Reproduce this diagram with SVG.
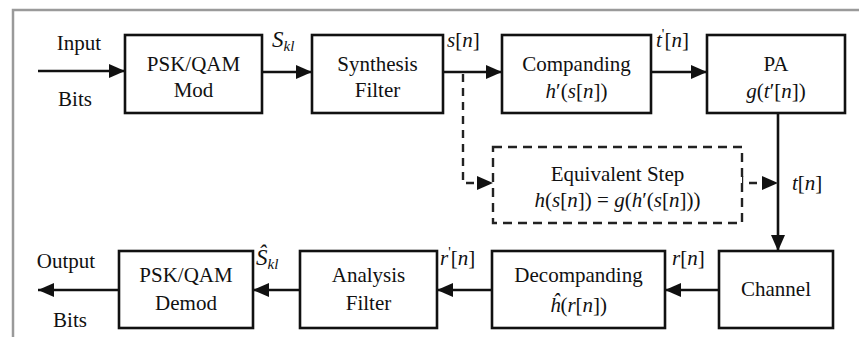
<svg xmlns="http://www.w3.org/2000/svg" width="859" height="337" viewBox="0 0 859 337">
<style>
.box{fill:#fff;stroke:#111;stroke-width:2.6}
.dbox{fill:#fff;stroke:#222;stroke-width:2.4;stroke-dasharray:9,6}
.ln{stroke:#111;stroke-width:2.6;fill:none}
.dl{stroke:#222;stroke-width:2.4;fill:none;stroke-dasharray:8,6}
</style>
<defs>
<marker id="ah" viewBox="0 0 16 14" refX="16" refY="7" markerWidth="16" markerHeight="14" markerUnits="userSpaceOnUse" orient="auto">
<path d="M0,0 L16,7 L0,14 z" fill="#111"/>
</marker>
</defs>
<rect x="0" y="0" width="859" height="337" fill="#fff"/>
<path d="M13,337 V10 H859" fill="none" stroke="#9a9a9a" stroke-width="2.5"/>

<g id="connectors">
<line class="ln" x1="38" y1="71" x2="125" y2="71" marker-end="url(#ah)"/>
<line class="ln" x1="262" y1="72" x2="312" y2="72" marker-end="url(#ah)"/>
<line class="ln" x1="443" y1="72" x2="502" y2="72" marker-end="url(#ah)"/>
<line class="ln" x1="651" y1="72" x2="707" y2="72" marker-end="url(#ah)"/>
<line class="ln" x1="778" y1="113" x2="778" y2="251" marker-end="url(#ah)"/>
<line class="ln" x1="719" y1="290" x2="665" y2="290" marker-end="url(#ah)"/>
<line class="ln" x1="492" y1="290" x2="437" y2="290" marker-end="url(#ah)"/>
<line class="ln" x1="300" y1="290" x2="253" y2="290" marker-end="url(#ah)"/>
<line class="ln" x1="119" y1="290" x2="38" y2="290" marker-end="url(#ah)"/>
<path class="dl" d="M463,74 V183 H493" marker-end="url(#ah)"/>
<path class="dl" d="M742,176 V183 H778" marker-end="url(#ah)"/>
</g>

<g id="labels" fill="#111">
<text font-family="Liberation Serif" font-size="21" text-anchor="middle" x="79" y="50">Input</text>
<text font-family="Liberation Serif" font-size="21" text-anchor="middle" x="75" y="106">Bits</text>
<text font-family="Liberation Serif" font-size="23" font-style="italic" x="272" y="47">S<tspan font-size="15" dy="4">kl</tspan></text>
<text font-family="Liberation Serif" font-size="21" x="447" y="47"><tspan font-style="italic">s</tspan>[<tspan font-style="italic">n</tspan>]</text>
<text font-family="Liberation Serif" font-size="21" x="656" y="47"><tspan font-style="italic">t</tspan><tspan font-size="14" dy="-8">'</tspan><tspan dy="8">[</tspan><tspan font-style="italic">n</tspan>]</text>
<text font-family="Liberation Serif" font-size="21" x="792" y="190"><tspan font-style="italic">t</tspan>[<tspan font-style="italic">n</tspan>]</text>
<text font-family="Liberation Serif" font-size="21" x="672" y="265"><tspan font-style="italic">r</tspan>[<tspan font-style="italic">n</tspan>]</text>
<text font-family="Liberation Serif" font-size="21" x="440" y="265"><tspan font-style="italic">r</tspan><tspan font-size="14" dy="-8">'</tspan><tspan dy="8">[</tspan><tspan font-style="italic">n</tspan>]</text>
<text font-family="Liberation Serif" font-size="23" font-style="italic" x="256" y="265">Ŝ<tspan font-size="15" dy="4">kl</tspan></text>
<text font-family="Liberation Serif" font-size="21" text-anchor="middle" x="66" y="268">Output</text>
<text font-family="Liberation Serif" font-size="21" text-anchor="middle" x="70" y="327">Bits</text>
</g>

<g id="mod" fill="#111">
<rect class="box" x="125" y="35" width="137" height="78"/>
<text font-family="Liberation Serif" font-size="21" text-anchor="middle" x="193.5" y="71">PSK/QAM</text>
<text font-family="Liberation Serif" font-size="21" text-anchor="middle" x="193.5" y="97">Mod</text>
</g>
<g id="synthesis" fill="#111">
<rect class="box" x="312" y="35" width="131" height="78"/>
<text font-family="Liberation Serif" font-size="21" text-anchor="middle" x="377.5" y="71">Synthesis</text>
<text font-family="Liberation Serif" font-size="21" text-anchor="middle" x="377.5" y="97">Filter</text>
</g>
<g id="companding" fill="#111">
<rect class="box" x="502" y="35" width="149" height="78"/>
<text font-family="Liberation Serif" font-size="21" text-anchor="middle" x="576.5" y="71">Companding</text>
<text font-family="Liberation Serif" font-size="21" text-anchor="middle" x="576.5" y="98"><tspan font-style="italic">h</tspan>′(<tspan font-style="italic">s</tspan>[<tspan font-style="italic">n</tspan>])</text>
</g>
<g id="pa" fill="#111">
<rect class="box" x="707" y="35" width="138" height="78"/>
<text font-family="Liberation Serif" font-size="21" text-anchor="middle" x="776" y="71">PA</text>
<text font-family="Liberation Serif" font-size="21" text-anchor="middle" x="776" y="98"><tspan font-style="italic">g</tspan>(<tspan font-style="italic">t</tspan>′[<tspan font-style="italic">n</tspan>])</text>
</g>
<g id="equivalent" fill="#111">
<rect class="dbox" x="493" y="147" width="249" height="76"/>
<text font-family="Liberation Serif" font-size="21" text-anchor="middle" x="617.5" y="181">Equivalent Step</text>
<text font-family="Liberation Serif" font-size="21" text-anchor="middle" x="617.5" y="207"><tspan font-style="italic">h</tspan>(<tspan font-style="italic">s</tspan>[<tspan font-style="italic">n</tspan>]) = <tspan font-style="italic">g</tspan>(<tspan font-style="italic">h</tspan>′(<tspan font-style="italic">s</tspan>[<tspan font-style="italic">n</tspan>]))</text>
</g>
<g id="channel" fill="#111">
<rect class="box" x="719" y="251" width="114" height="77"/>
<text font-family="Liberation Serif" font-size="21" text-anchor="middle" x="776" y="296">Channel</text>
</g>
<g id="decompanding" fill="#111">
<rect class="box" x="492" y="251" width="173" height="77"/>
<text font-family="Liberation Serif" font-size="21" text-anchor="middle" x="578.5" y="282">Decompanding</text>
<text font-family="Liberation Serif" font-size="21" text-anchor="middle" x="578.5" y="312"><tspan font-style="italic">ĥ</tspan>(<tspan font-style="italic">r</tspan>[<tspan font-style="italic">n</tspan>])</text>
</g>
<g id="analysis" fill="#111">
<rect class="box" x="300" y="251" width="137" height="77"/>
<text font-family="Liberation Serif" font-size="21" text-anchor="middle" x="368.5" y="282">Analysis</text>
<text font-family="Liberation Serif" font-size="21" text-anchor="middle" x="368.5" y="310">Filter</text>
</g>
<g id="demod" fill="#111">
<rect class="box" x="119" y="251" width="134" height="77"/>
<text font-family="Liberation Serif" font-size="21" text-anchor="middle" x="186" y="282">PSK/QAM</text>
<text font-family="Liberation Serif" font-size="21" text-anchor="middle" x="186" y="310">Demod</text>
</g>
</svg>
